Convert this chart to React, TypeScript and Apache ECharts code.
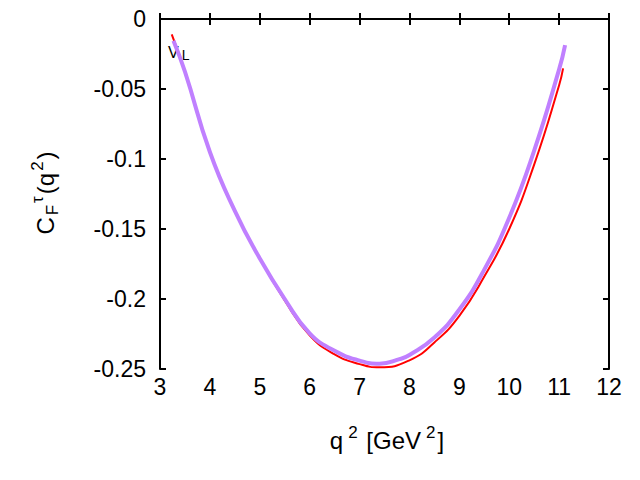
import React, { useEffect, useRef } from "react";
import * as echarts from "echarts";

const xTicks = [3, 4, 5, 6, 7, 8, 9, 10, 11, 12];
const yTicks = [-0.25, -0.2, -0.15, -0.1, -0.05, 0];

const redQ2 = [3.235, 3.5, 4.0, 4.5, 5.0, 5.5, 6.0, 6.5, 7.0, 7.4, 8.0, 8.5, 9.0, 9.5, 10.0, 10.5, 11.0, 11.08];
const redCF = [-0.011, -0.0376, -0.095, -0.137, -0.171, -0.201, -0.226, -0.2395, -0.2465, -0.2488, -0.2438, -0.231, -0.212, -0.184, -0.15, -0.104, -0.0473, -0.0353];

const purpleQ2 = [3.27, 3.5, 4.0, 4.5, 5.0, 5.5, 6.0, 6.5, 7.0, 7.4, 7.8, 8.0, 8.5, 9.0, 9.5, 10.0, 10.5, 11.0, 11.12];
const purpleCF = [-0.0155, -0.0376, -0.095, -0.137, -0.171, -0.2, -0.2245, -0.237, -0.244, -0.2462, -0.243, -0.24, -0.2275, -0.2075, -0.179, -0.142, -0.094, -0.036, -0.0186];

const FONT = "'Liberation Sans', Arial, Helvetica, sans-serif";

export default function App() {
  const ref = useRef<HTMLDivElement>(null);
  useEffect(() => {
    document.body.style.margin = "0";
    const chart = echarts.init(ref.current!, null, { renderer: "svg" });
    const axisCommon = {
      axisLine: { show: true, lineStyle: { color: "#000", width: 2 } },
      axisTick: { show: true, inside: true, length: 6, lineStyle: { color: "#000", width: 2 } },
      splitLine: { show: false },
    };
    chart.setOption({
      animation: false,
      backgroundColor: "#fff",
      grid: { left: 160, right: 31, top: 19, bottom: 111, containLabel: false },
      xAxis: [
        {
          type: "value", min: xTicks[0], max: xTicks[xTicks.length - 1], interval: 1, position: "bottom",
          ...axisCommon,
          axisLabel: { color: "#000", fontSize: 23, fontFamily: FONT, margin: 6 },
        },
        {
          type: "value", min: xTicks[0], max: xTicks[xTicks.length - 1], interval: 1, position: "top",
          ...axisCommon,
          axisLabel: { show: false },
        },
      ],
      yAxis: [
        {
          type: "value", min: yTicks[0], max: yTicks[yTicks.length - 1], interval: 0.05, position: "left",
          ...axisCommon,
          axisLabel: { color: "#000", fontSize: 23, fontFamily: FONT, margin: 14 },
        },
        {
          type: "value", min: yTicks[0], max: yTicks[yTicks.length - 1], interval: 0.05, position: "right",
          ...axisCommon,
          axisLabel: { show: false },
        },
      ],
      series: [
        {
          type: "line", xAxisIndex: 0, yAxisIndex: 0, smooth: true, showSymbol: false, symbol: "none",
          lineStyle: { color: "#ff0000", width: 2 },
          data: redQ2.map((x, i) => [x, redCF[i]]),
          z: 2,
        },
        {
          type: "line", xAxisIndex: 0, yAxisIndex: 0, smooth: true, showSymbol: false, symbol: "none",
          lineStyle: { color: "#c080ff", width: 4 },
          data: purpleQ2.map((x, i) => [x, purpleCF[i]]),
          z: 3,
        },
      ],
      graphic: [
        {
          type: "text",
          x: 387, y: 440,
          style: {
            text: "{m|q}{sup|2}{m| [GeV}{sup|2}{m|]}",
            align: "center", verticalAlign: "middle",
            rich: {
              m: { fontSize: 24, fontFamily: FONT, fill: "#000", lineHeight: 32, verticalAlign: "middle" },
              sup: { fontSize: 17, fontFamily: FONT, fill: "#000", lineHeight: 17, verticalAlign: "top", padding: [0, 2, 0, 5] },
            },
          },
        },
        {
          type: "text",
          x: 45, y: 193,
          rotation: Math.PI / 2,
          style: {
            text: "{m|C}{sub|F}{sup|τ}{m|(q}{sup|2}{m|)}",
            align: "center", verticalAlign: "middle",
            rich: {
              m: { fontSize: 24, fontFamily: FONT, fill: "#000", lineHeight: 32, verticalAlign: "middle" },
              sub: { fontSize: 17, fontFamily: FONT, fill: "#000", lineHeight: 17, verticalAlign: "bottom", padding: [0, 0, 0, 2] },
              sup: { fontSize: 17, fontFamily: FONT, fill: "#000", lineHeight: 17, verticalAlign: "top", padding: [0, 2, 0, 2] },
            },
          },
        },
        {
          type: "text",
          x: 168, y: 52,
          style: {
            text: "{m|V}{sub|L}",
            align: "left", verticalAlign: "middle",
            rich: {
              m: { fontSize: 16, fontFamily: FONT, fill: "#000", lineHeight: 20, verticalAlign: "middle" },
              sub: { fontSize: 14, fontFamily: FONT, fill: "#000", lineHeight: 14, verticalAlign: "bottom", padding: [0, 0, 0, 3] },
            },
          },
        },
      ],
    });
    return () => chart.dispose();
  }, []);
  return <div ref={ref} style={{ width: 640, height: 480 }} />;
}
